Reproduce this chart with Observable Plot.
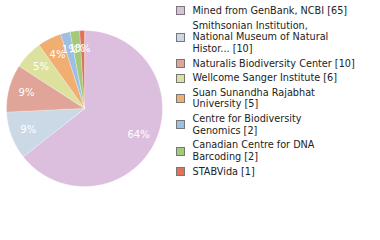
<!DOCTYPE html>
<html>
<head>
<meta charset="utf-8">
<script src="https://cdn.jsdelivr.net/npm/d3@7"></script>
<script src="https://cdn.jsdelivr.net/npm/@observablehq/plot@0.6"></script>
<style>
  html, body { margin: 0; padding: 0; background: #fff; }
  #wrap { position: relative; width: 380px; height: 240px; overflow: hidden; }
  #legend { position: absolute; left: 176px; top: 5px; font-family: "DejaVu Sans", sans-serif; font-size: 9.7px; color: #222; line-height: 11.7px; }
  .item { display: flex; align-items: center; margin-bottom: 2.9px; }
  .sw { width: 7px; height: 7px; border: 1px solid #777; flex: none; margin-right: 7.5px; }
</style>
</head>
<body>
<div id="wrap"></div>
<script>
const names = [
  "Mined from GenBank, NCBI",
  "Smithsonian Institution, National Museum of Natural Histor...",
  "Naturalis Biodiversity Center",
  "Wellcome Sanger Institute",
  "Suan Sunandha Rajabhat University",
  "Centre for Biodiversity Genomics",
  "Canadian Centre for DNA Barcoding",
  "STABVida"
];
const legendLines = [
  ["Mined from GenBank, NCBI [65]"],
  ["Smithsonian Institution,", "National Museum of Natural", "Histor... [10]"],
  ["Naturalis Biodiversity Center [10]"],
  ["Wellcome Sanger Institute [6]"],
  ["Suan Sunandha Rajabhat", "University [5]"],
  ["Centre for Biodiversity", "Genomics [2]"],
  ["Canadian Centre for DNA", "Barcoding [2]"],
  ["STABVida [1]"]
];
const counts = [65, 10, 10, 6, 5, 2, 2, 1];
const colors = ["#dcbedf", "#cbd8e5", "#e0a598", "#dde19e", "#f0ae70", "#9ebfe1", "#a3c97a", "#e07258"];

const total = d3.sum(counts);
const pie = d3.pie().sort(null).value(d => d.count)(names.map((name, i) => ({name, count: counts[i]})));

// slice outlines in unit coordinates (angle measured clockwise from top)
const pts = [];
const labels = [];
for (const a of pie) {
  const n = Math.max(2, Math.ceil((a.endAngle - a.startAngle) / 0.02));
  pts.push({name: a.data.name, x: 0, y: 0});
  for (let k = 0; k <= n; k++) {
    const t = a.startAngle + (a.endAngle - a.startAngle) * k / n;
    pts.push({name: a.data.name, x: Math.sin(t), y: Math.cos(t)});
  }
  const m = (a.startAngle + a.endAngle) / 2;
  labels.push({x: 0.77 * Math.sin(m), y: 0.77 * Math.cos(m), text: Math.floor(a.data.count / total * 100) + "%"});
}

const plot = Plot.plot({
  width: 170,
  height: 240,
  margin: 0,
  x: {domain: [-1, 1], range: [6, 162], axis: null},
  y: {domain: [-1, 1], range: [186, 30], axis: null},
  color: {domain: names, range: colors},
  style: {background: "transparent"},
  marks: [
    Plot.line(pts, {x: "x", y: "y", z: "name", fill: "name", stroke: "white", strokeWidth: 0.3, curve: "linear-closed"}),
    Plot.text(labels, {x: "x", y: "y", text: "text", fill: "white", fontSize: 10, fontFamily: "DejaVu Sans", style: "letter-spacing:0.8px"})
  ]
});

const wrap = document.getElementById("wrap");
wrap.appendChild(plot);
const color = plot.scale("color");
const legend = document.createElement("div");
legend.id = "legend";
names.forEach((name, i) => {
  const it = document.createElement("div");
  it.className = "item";
  const sw = document.createElement("div");
  sw.className = "sw";
  sw.style.background = color.apply(name);
  const tx = document.createElement("div");
  tx.innerHTML = legendLines[i].join("<br>");
  it.appendChild(sw);
  it.appendChild(tx);
  legend.appendChild(it);
});
wrap.appendChild(legend);
</script>
</body>
</html>
